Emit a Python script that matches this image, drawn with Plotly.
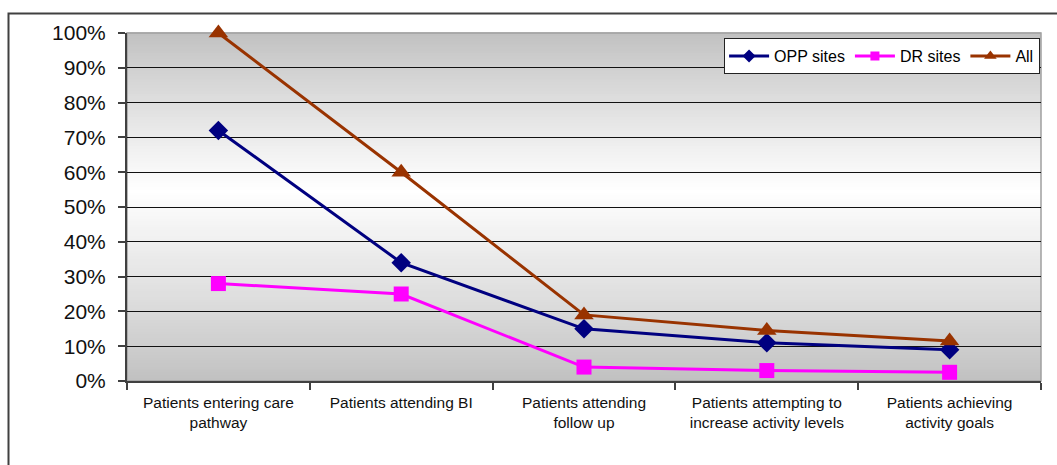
import plotly.graph_objects as go

# Stages of the care pathway (x-axis categories)
stages = [
    "Patients entering care<br>pathway",
    "Patients attending BI",
    "Patients attending<br>follow up",
    "Patients attempting to<br>increase activity levels",
    "Patients achieving<br>activity goals",
]

# Percentage of patients at each stage, per site group
opp_sites = [72, 34, 15, 11, 9]
dr_sites = [28, 25, 4, 3, 2.5]
all_sites = [100, 60, 19, 14.5, 11.5]

y_ticks = list(range(0, 101, 10))
y_tick_labels = [f"{v}%" for v in y_ticks]

FONT = "Liberation Sans, Arial, sans-serif"
W, H = 1057, 465
L, R, T, B = 127, 16, 33, 84
plot_w, plot_h = W - L - R, H - T - B

x_idx = list(range(len(stages)))

fig = go.Figure()

series = [
    ("OPP sites", opp_sites, "#000080", "diamond", 15, 10),
    ("DR sites", dr_sites, "#ff00ff", "square", 15, 9),
    ("All", all_sites, "#993300", "triangle-up", 17, 11),
]
for name, vals, color, symbol, size, leg_size in series:
    fig.add_trace(go.Scatter(
        x=x_idx, y=vals, name=name, mode="lines+markers",
        line=dict(color=color, width=3),
        marker=dict(symbol=symbol, size=size, color=color, line=dict(width=0)),
        cliponaxis=False, showlegend=False, legendgroup=name,
    ))
    # legend entry with a smaller marker
    fig.add_trace(go.Scatter(
        x=[None], y=[None], name=name, mode="lines+markers",
        line=dict(color=color, width=3),
        marker=dict(symbol=symbol, size=leg_size, color=color, line=dict(width=0)),
        showlegend=True, legendgroup=name,
    ))

# Vertical gradient for the plot background: grey at the edges, white near the middle
shapes = []
n_strips = 120
def grey_at(f):
    # f: 0 at bottom, 1 at top
    mid = 0.55
    t = f / mid if f <= mid else (1 - f) / (1 - mid)
    t = max(0.0, min(1.0, t))
    v = round(0xc0 + (0xff - 0xc0) * (t ** 0.9))
    return f"rgb({v},{v},{v})"

for i in range(n_strips):
    y0 = i / n_strips
    y1 = (i + 1) / n_strips
    shapes.append(dict(
        type="rect", xref="x domain", yref="y domain",
        x0=0, x1=1, y0=y0, y1=y1 + 0.002,
        fillcolor=grey_at((y0 + y1) / 2), line=dict(width=0), layer="below",
    ))

# Light grey frame around the plot area
shapes.append(dict(
    type="rect", xref="x domain", yref="y domain", x0=0, x1=1, y0=0, y1=1,
    line=dict(color="#a0a0a0", width=1.5), fillcolor="rgba(0,0,0,0)", layer="below",
))

# Outer chart border
def px_to_paper_x(px):
    return (px - L) / plot_w

def px_to_paper_y(py):
    return (H - B - py) / plot_h

shapes.append(dict(
    type="rect", xref="paper", yref="paper",
    x0=px_to_paper_x(8.5), x1=px_to_paper_x(1070),
    y0=px_to_paper_y(480), y1=px_to_paper_y(13.5),
    line=dict(color="#404040", width=2), fillcolor="rgba(0,0,0,0)", layer="below",
))

fig.update_layout(
    width=W, height=H,
    margin=dict(l=L, r=R, t=T, b=B),
    paper_bgcolor="white",
    plot_bgcolor="rgba(0,0,0,0)",
    font=dict(family=FONT, color="black"),
    shapes=shapes,
    showlegend=True,
    legend=dict(
        orientation="h", x=0.999, xanchor="right", y=0.985, yanchor="top",
        bgcolor="white", bordercolor="#222222", borderwidth=1,
        font=dict(size=16, family=FONT), itemwidth=40,
        tracegroupgap=0,
    ),
    xaxis=dict(
        range=[-0.5, len(stages) - 0.5],
        tickmode="array", tickvals=x_idx, ticktext=stages,
        ticks="", showgrid=False, zeroline=False,
        showline=True, linecolor="#404040", linewidth=2,
        tickfont=dict(size=15.5, family=FONT, color="#111111"),
        ticklabelstandoff=6,
        minor=dict(tick0=-0.5, dtick=1, ticks="outside", ticklen=7,
                   tickcolor="#404040", tickwidth=1.5, showgrid=False),
        fixedrange=True,
    ),
    yaxis=dict(
        range=[0, 100],
        tickmode="array", tickvals=y_ticks, ticktext=y_tick_labels,
        ticks="outside", ticklen=7, tickcolor="#404040", tickwidth=1.5,
        showgrid=True, gridcolor="#111111", gridwidth=1,
        zeroline=False,
        showline=True, linecolor="#404040", linewidth=2,
        tickfont=dict(size=21, family=FONT, color="#111111"),
        ticklabelstandoff=8,
        fixedrange=True,
    ),
)

fig.write_html("out.html")
